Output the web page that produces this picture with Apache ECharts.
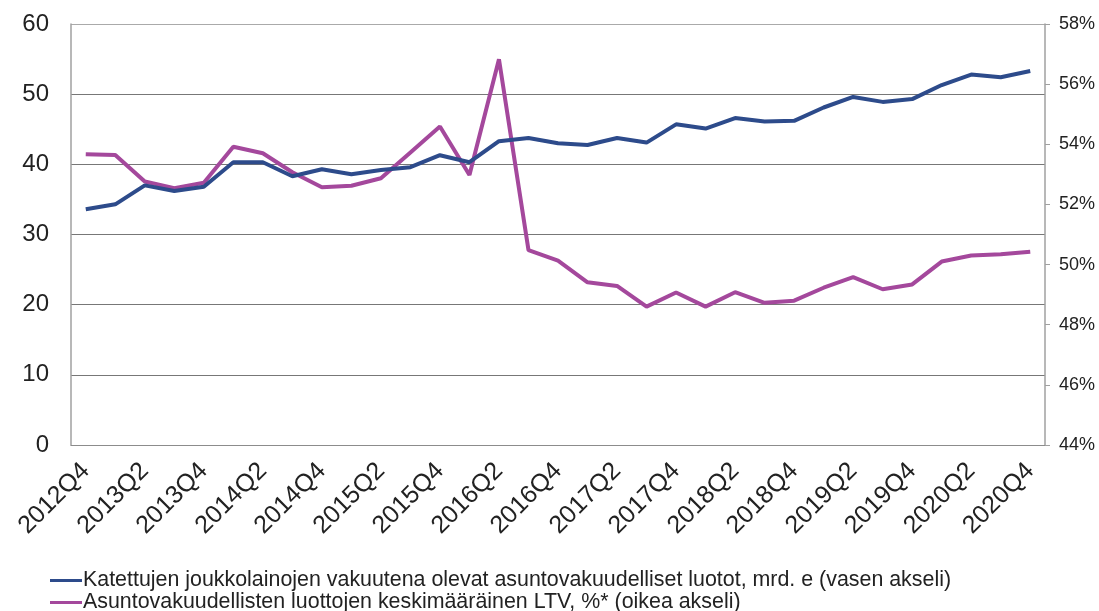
<!DOCTYPE html>
<html>
<head>
<meta charset="utf-8">
<script src="https://cdn.jsdelivr.net/npm/echarts@6/dist/echarts.min.js"></script>
<style>
  html, body { margin: 0; padding: 0; background: #fff; }
  #chart { width: 1099px; height: 611px; }
</style>
</head>
<body>
<div id="chart"></div>
<script>
// Quarters 2012Q4 … 2020Q4
const quarters = [
  '2012Q4','2013Q1','2013Q2','2013Q3','2013Q4','2014Q1','2014Q2','2014Q3','2014Q4',
  '2015Q1','2015Q2','2015Q3','2015Q4','2016Q1','2016Q2','2016Q3','2016Q4',
  '2017Q1','2017Q2','2017Q3','2017Q4','2018Q1','2018Q2','2018Q3','2018Q4',
  '2019Q1','2019Q2','2019Q3','2019Q4','2020Q1','2020Q2','2020Q3','2020Q4'
];

// Covered bond collateral, bn EUR (left axis)
const collateralLoans = [
  33.6, 34.3, 37.0, 36.2, 36.8, 40.3, 40.3, 38.3, 39.3,
  38.6, 39.2, 39.6, 41.3, 40.3, 43.3, 43.75, 43.0,
  42.75, 43.75, 43.1, 45.7, 45.1, 46.6, 46.1, 46.2,
  48.1, 49.6, 48.9, 49.3, 51.3, 52.8, 52.4, 53.3
];

// Average LTV of mortgage loans, % (right axis)
const averageLtv = [
  53.67, 53.64, 52.76, 52.54, 52.72, 53.92, 53.70, 53.07, 52.57,
  52.62, 52.87, 53.73, 54.59, 52.98, 56.83, 50.48, 50.13,
  49.41, 49.29, 48.60, 49.07, 48.60, 49.08, 48.73, 48.80,
  49.23, 49.58, 49.18, 49.34, 50.10, 50.30, 50.34, 50.43
];

const seriesNames = [
  'Katettujen joukkolainojen vakuutena olevat asuntovakuudelliset luotot, mrd. e (vasen akseli)',
  'Asuntovakuudellisten luottojen keskimääräinen LTV, %* (oikea akseli)'
];

const FONT = '"Liberation Sans", Arial, sans-serif';
const chart = echarts.init(document.getElementById('chart'));

// One legend per row so both entries stack at the bottom-left
function legendRow(name, top) {
  return {
    orient: 'vertical',
    left: 50,
    top: top,
    padding: 0,
    itemWidth: 32,
    itemHeight: 3,
    icon: 'rect',
    itemStyle: { borderWidth: 0 },
    textStyle: { fontSize: 21.4, color: '#222', fontFamily: FONT, padding: [0, 0, 0, -4] },
    data: [name]
  };
}

chart.setOption({
  animation: false,
  backgroundColor: '#ffffff',
  textStyle: { fontFamily: FONT },
  grid: { left: 71, right: 54, top: 24, bottom: 166, containLabel: false },
  legend: [legendRow(seriesNames[0], 570), legendRow(seriesNames[1], 592)],
  xAxis: {
    type: 'category',
    data: quarters,
    boundaryGap: true,
    axisLine: { lineStyle: { color: '#8c8c8c', width: 1 } },
    axisTick: { show: false },
    axisLabel: {
      interval: 1,
      rotate: 45,
      margin: 22,
      fontSize: 25,
      color: '#222',
      fontFamily: FONT
    }
  },
  yAxis: [
    {
      type: 'value',
      min: 0,
      max: 60,
      interval: 10,
      position: 'left',
      axisLine: { show: true, lineStyle: { color: '#a0a0a0', width: 1.5 } },
      axisTick: { show: false },
      axisLabel: { fontSize: 24, color: '#222', margin: 22, fontFamily: FONT },
      splitLine: {
        show: true,
        lineStyle: { color: ['#8c8c8c', '#777777', '#777777', '#777777', '#777777', '#777777', '#aaaaaa'], width: 1 }
      }
    },
    {
      type: 'value',
      min: 44,
      max: 58,
      interval: 2,
      position: 'right',
      axisLine: { show: true, lineStyle: { color: '#a0a0a0', width: 1.5 } },
      axisTick: { show: true, inside: false, length: 5, lineStyle: { color: '#a0a0a0' } },
      axisLabel: { fontSize: 18, color: '#222', margin: 14, fontFamily: FONT, formatter: '{value}%' },
      splitLine: { show: false }
    }
  ],
  series: [
    {
      name: seriesNames[0],
      type: 'line',
      yAxisIndex: 0,
      data: collateralLoans,
      symbol: 'none',
      lineStyle: { color: '#2d4b8b', width: 4 },
      itemStyle: { color: '#2d4b8b' },
      z: 3
    },
    {
      name: seriesNames[1],
      type: 'line',
      yAxisIndex: 1,
      data: averageLtv,
      symbol: 'none',
      lineStyle: { color: '#a4489c', width: 4 },
      itemStyle: { color: '#a4489c' },
      z: 2
    }
  ]
});
</script>
</body>
</html>
